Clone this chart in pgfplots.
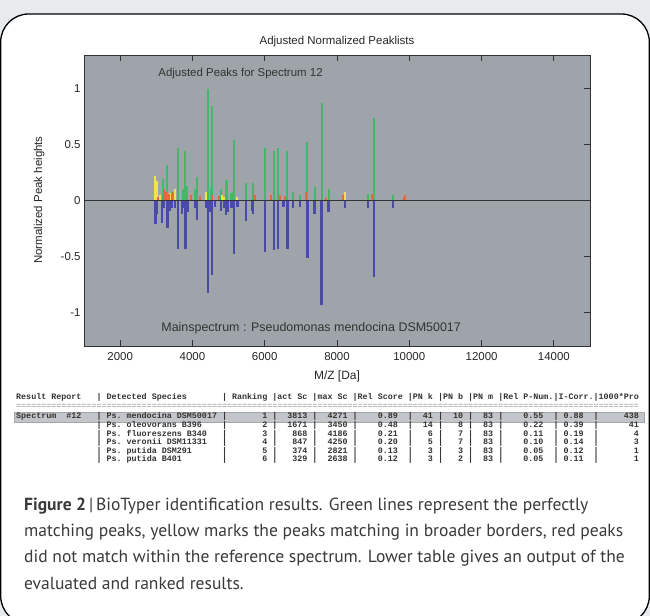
\documentclass[border=0pt]{standalone}
\usepackage{fontspec}
\setmainfont{PT Sans}
\newfontfamily\arial{Liberation Sans}
\newfontfamily\mono{Liberation Mono}
\usepackage{pgfplots}
\pgfplotsset{compat=1.18}

\definecolor{pagebg}{HTML}{E7EBEE}
\definecolor{plotbg}{HTML}{9EA4A9}
\definecolor{pkgreen}{HTML}{44B86A}
\definecolor{pkyellow}{HTML}{F2E34A}
\definecolor{pkred}{HTML}{E8663E}
\definecolor{pkblue}{HTML}{4A4BA6}
\definecolor{rowhl}{HTML}{C2C6CA}
\definecolor{captxt}{HTML}{3A3A3A}

\begin{document}
\begin{tikzpicture}
\fill[pagebg] (0,0) rectangle (650bp,616bp);
\useasboundingbox (0,0) rectangle (650bp,616bp);
\draw[line width=1.3bp, fill=white, rounded corners=28bp] (0.7bp,-8bp) rectangle (649.3bp,602bp);

\begin{axis}[
    at={(84bp,270bp)}, anchor=south west,
    scale only axis, width=506bp, height=291bp,
    xmin=1000, xmax=15000, ymin=-1.3, ymax=1.3,
    axis background/.style={fill=plotbg},
    axis line style={black!80, line width=0.8bp},
    xtick={2000,4000,...,14000},
    ytick={-1,-0.5,0,0.5,1},
    scaled x ticks=false,
    /pgf/number format/1000 sep={},
    /pgf/number format/assume math mode=true,
    tick label style={font=\arial\fontsize{11.5}{13}\selectfont, text=black!85},
    xticklabel style={yshift=-3bp},
    major tick length=6bp,
    tick style={black!80, line width=0.8bp},
    xtick pos=both, ytick pos=right, yticklabel pos=left,
    clip=true,
]
\addplot[ycomb, draw=pkgreen, line width=2bp] coordinates {
(3180,0.19) (3309,0.32) (3475,0.08) (3604,0.47) (3733,0.10) (3770,0.09)
(3806,0.44) (3862,0.13) (4065,0.10) (4120,0.21) (4424,1.00) (4507,0.11)
(4535,0.84) (4783,0.10) (4922,0.17) (4959,0.18) (5060,0.07) (5124,0.08)
(5143,0.54) (5475,0.16) (5668,0.16) (6000,0.47) (6249,0.44) (6369,0.47)
(6627,0.44) (6783,0.08) (6977,0.045) (7180,0.52) (7382,0.12) (7576,0.87)
(7770,0.105) (8852,0.06) (9018,0.74) (9543,0.045)
};
\addplot[ycomb, draw=pkyellow, line width=2bp] coordinates {
(2977,0.22) (3014,0.17) (3100,0.05) (3392,0.07) (3521,0.10) (4369,0.08)
(4829,0.05) (4875,0.03) (5235,0.03) (8224,0.08)
};
\addplot[ycomb, draw=pkred, line width=2bp] coordinates {
(3060,0.03) (3217,0.10) (3272,0.08) (3355,0.06) (3438,0.07) (3963,0.05)
(4221,0.04) (4553,0.05) (4737,0.04) (5696,0.05) (5740,0.05) (6166,0.05)
(6433,0.05) (6571,0.04) (7143,0.08) (7687,0.02) (8166,0.05) (8980,0.06)
(9850,0.035) (9890,0.045)
};
\addplot[ycomb, draw=pkblue, line width=2.4bp] coordinates {
(2977,-0.21) (3014,-0.12) (3162,-0.20) (3199,-0.07) (3309,-0.25) (3364,-0.09)
(3438,-0.07) (3512,-0.07) (3604,-0.43) (3714,-0.12) (3770,-0.07) (3806,-0.43)
(3880,-0.10) (4065,-0.07) (4120,-0.17) (4369,-0.07) (4424,-0.83) (4480,-0.10)
(4535,-0.67) (4627,-0.06) (4783,-0.09) (4866,-0.07) (4922,-0.13) (4977,-0.10)
(5078,-0.07) (5143,-0.48) (5244,-0.06) (5475,-0.18) (5650,-0.09) (5668,-0.12)
(6000,-0.46) (6249,-0.44) (6369,-0.43) (6516,-0.06) (6627,-0.43) (6783,-0.07)
(6977,-0.06) (7180,-0.51) (7382,-0.12) (7576,-0.93) (7770,-0.10) (8222,-0.07)
(8852,-0.07) (9018,-0.68) (9543,-0.07)
};
\addplot[black!80, line width=0.9bp] coordinates {(1000,0) (15000,0)};
\node[anchor=base west, font=\arial\fontsize{11.5}{13}\selectfont, text=black!80]
    at (rel axis cs:0.140,0.925) {Adjusted Peaks for Spectrum 12};
\node[anchor=base west, font=\arial\fontsize{12.5}{14}\selectfont, text=black!80]
    at (rel axis cs:0.146,0.050) {Mainspectrum : Pseudomonas mendocina DSM50017};
\end{axis}

% titles and axis labels
\node[anchor=base, font=\arial\fontsize{11.5}{13}\selectfont, text=black!85] at (337bp,571bp) {Adjusted Normalized Peaklists};
\node[anchor=base, font=\arial\fontsize{12}{14}\selectfont, text=black!85] at (337bp,236bp) {M/Z [Da]};
\node[anchor=base, rotate=90, font=\arial\fontsize{11.5}{13}\selectfont, text=black!85] at (42bp,416bp) {Normalized Peak heights};

% result table
\fill[rowhl] (14bp,193.5bp) rectangle (644bp,204bp);
\draw[black!35, line width=0.4bp] (14bp,193.5bp) rectangle (644bp,204bp);
\begin{scope}[every node/.style={anchor=base west, inner sep=0pt, font=\mono\bfseries\fontsize{8.4}{9}\selectfont, text=black!80}]
\node at (16bp,216.5bp) {Result~Report~~~|~Detected~Species~~~~~~~|~Ranking~|act~Sc~|max~Sc~|Rel~Score~|PN~k~|PN~b~|PN~m~|Rel~P-Num.|I-Corr.|1000*Pro};
\node[text=black!45, font=\mono\fontsize{8.4}{9}\selectfont] at (16bp,207.5bp) {============================================================================================================================};
\node at (16bp,197bp) {Spectrum~~\#12~~~|~Ps.~mendocina~DSM50017~|~~~~~~~1~|~~3813~|~~4271~|~~~~0.89~~|~~41~|~~10~|~~83~|~~~~0.55~~|~0.88~~|~~~~~438};
\node at (16bp,188.4bp) {~~~~~~~~~~~~~~~~|~Ps.~oleovorans~B396~~~~|~~~~~~~2~|~~1671~|~~3450~|~~~~0.48~~|~~14~|~~~8~|~~83~|~~~~0.22~~|~0.39~~|~~~~~~41};
\node at (16bp,179.8bp) {~~~~~~~~~~~~~~~~|~Ps.~fluoreszens~B340~~~|~~~~~~~3~|~~~868~|~~4186~|~~~~0.21~~|~~~6~|~~~7~|~~83~|~~~~0.11~~|~0.19~~|~~~~~~~4};
\node at (16bp,171.2bp) {~~~~~~~~~~~~~~~~|~Ps.~veronii~DSM11331~~~|~~~~~~~4~|~~~847~|~~4250~|~~~~0.20~~|~~~5~|~~~7~|~~83~|~~~~0.10~~|~0.14~~|~~~~~~~3};
\node at (16bp,162.6bp) {~~~~~~~~~~~~~~~~|~Ps.~putida~DSM291~~~~~~|~~~~~~~5~|~~~374~|~~2821~|~~~~0.13~~|~~~3~|~~~3~|~~83~|~~~~0.05~~|~0.12~~|~~~~~~~1};
\node at (16bp,154bp) {~~~~~~~~~~~~~~~~|~Ps.~putida~B401~~~~~~~~|~~~~~~~6~|~~~329~|~~2638~|~~~~0.12~~|~~~3~|~~~2~|~~83~|~~~~0.05~~|~0.11~~|~~~~~~~1};
\end{scope}

% caption
\begin{scope}[every node/.style={anchor=base west, inner sep=0pt, font=\fontsize{17.6}{20}\selectfont, text=captxt}]
\node at (24bp,105bp) {\textbf{Figure 2}\,|\,BioTyper identification results. Green lines represent the perfectly};
\node at (24bp,79bp) {matching peaks, yellow marks the peaks matching in broader borders, red peaks};
\node at (24bp,53bp) {did not match within the reference spectrum. Lower table gives an output of the};
\node at (24bp,27bp) {evaluated and ranked results.};
\end{scope}
\end{tikzpicture}
\end{document}
